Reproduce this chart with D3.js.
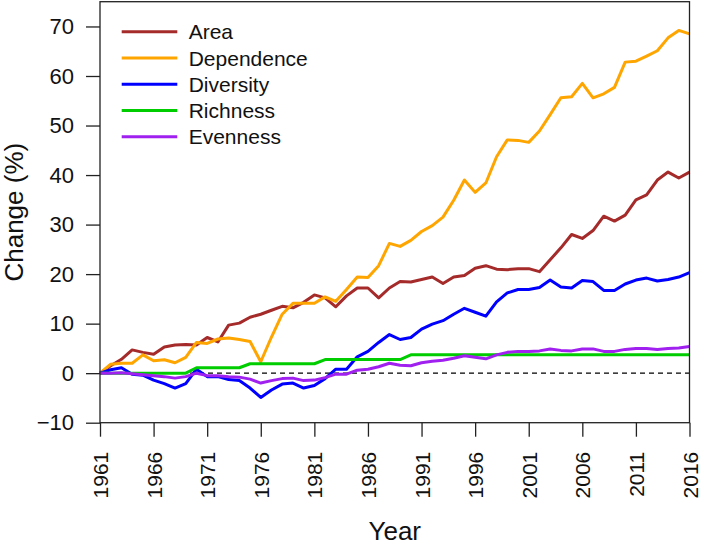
<!DOCTYPE html>
<html>
<head>
<meta charset="utf-8">
<script src="https://cdn.jsdelivr.net/npm/d3@7"></script>
<style>
  body { margin: 0; background: #fff; }
  svg { font-family: "Liberation Sans", Arial, sans-serif; }
</style>
</head>
<body>
<svg id="chart" width="709" height="549"></svg>
<script>
// data (percent change relative to 1961)
const years = d3.range(1961, 2017);
const seriesNames = ["Area", "Dependence", "Diversity", "Richness", "Evenness"];
const seriesColors = ["#A52A2A", "#FFA500", "#0000FF", "#00CD00", "#A020F0"];
const yTicks = [-10, 0, 10, 20, 30, 40, 50, 60, 70];
const xTicks = [1961, 1966, 1971, 1976, 1981, 1986, 1991, 1996, 2001, 2006, 2011, 2016];

const area = [
    0, 1.5, 2.8, 4.7, 4.2, 3.8, 5.3, 5.7, 5.8, 5.7,
    7.2, 6.3, 9.7, 10.1, 11.3, 11.9, 12.7, 13.5, 13.2, 14.3,
    15.8, 15.2, 13.4, 15.6, 17.2, 17.2, 15.2, 17.2, 18.5, 18.4,
    18.9, 19.4, 18.1, 19.4, 19.7, 21.2, 21.7, 21.0, 20.9, 21.1,
    21.1, 20.5, 22.9, 25.3, 28.0, 27.2, 28.8, 31.7, 30.7, 31.9,
    35.0, 36.0, 39.0, 40.6, 39.4, 40.6
];
const dependence = [
    0, 1.8, 2.0, 2.0, 3.7, 2.5, 2.7, 2.1, 3.2, 6.2,
    6.0, 6.9, 7.1, 6.8, 6.4, 2.3, 7.3, 11.9, 14.1, 14.1,
    14.1, 15.4, 14.5, 16.9, 19.4, 19.3, 21.7, 26.2, 25.6, 26.8,
    28.6, 29.8, 31.5, 34.9, 39.0, 36.5, 38.4, 43.7, 47.1, 47.0,
    46.6, 48.9, 52.2, 55.6, 55.8, 58.5, 55.6, 56.4, 57.7, 62.8,
    63.0, 64.0, 65.1, 67.7, 69.2, 68.5
];
const diversity = [
    0, 0.7, 1.1, -0.2, -0.4, -1.4, -2.1, -3.0, -2.1, 0.8,
    -0.7, -0.7, -1.3, -1.5, -3.0, -4.9, -3.4, -2.2, -2.0, -3.0,
    -2.5, -1.1, 0.8, 0.8, 3.3, 4.4, 6.2, 7.8, 6.8, 7.2,
    8.9, 9.9, 10.6, 11.9, 13.1, 12.3, 11.5, 14.4, 16.2, 16.9,
    16.9, 17.3, 18.8, 17.4, 17.2, 18.7, 18.5, 16.7, 16.7, 18.0,
    18.8, 19.2, 18.6, 18.9, 19.4, 20.3
];
const richness = [
    0, 0, 0, 0, 0, 0, 0, 0, 0, 1.1,
    1.1, 1.1, 1.1, 1.1, 1.9, 1.9, 1.9, 1.9, 1.9, 1.9,
    1.9, 2.75, 2.75, 2.75, 2.75, 2.75, 2.75, 2.75, 2.75, 3.7,
    3.7, 3.7, 3.7, 3.7, 3.7, 3.7, 3.7, 3.7, 3.7, 3.7,
    3.7, 3.7, 3.7, 3.7, 3.7, 3.7, 3.7, 3.7, 3.7, 3.7,
    3.7, 3.7, 3.7, 3.7, 3.7, 3.7
];
const evenness = [
    0, 0, 0.1, -0.1, -0.3, -0.5, -0.7, -1.0, -0.7, 0,
    -0.5, -0.5, -0.7, -0.8, -1.2, -2.0, -1.5, -1.1, -1.0, -1.5,
    -1.4, -0.9, -0.2, -0.2, 0.6, 0.8, 1.3, 2.0, 1.6, 1.5,
    2.1, 2.4, 2.6, 3.0, 3.5, 3.2, 2.9, 3.7, 4.2, 4.4,
    4.4, 4.5, 4.9, 4.6, 4.5, 4.9, 4.9, 4.4, 4.4, 4.8,
    5.0, 5.0, 4.8, 5.0, 5.1, 5.4
];
const seriesValues = [area, dependence, diversity, richness, evenness];

function plot() {
    const svg = d3.select("#chart");
    const left = 100, right = 689.5, top = 1.7, bottom = 422.7;

    const x = d3.scaleLinear().domain([1961, 2016]).range([left, right]);
    const y = d3.scaleLinear().domain([-10, 75]).range([bottom, top]);

    // zero reference line
    svg.append("line")
        .attr("x1", left).attr("x2", right)
        .attr("y1", y(0)).attr("y2", y(0))
        .attr("stroke", "#000")
        .attr("stroke-width", 1.2)
        .attr("stroke-dasharray", "5,4");

    const line = d3.line()
        .x(function(d) { return x(d[0]); })
        .y(function(d) { return y(d[1]); });

    seriesValues.forEach(function(vals, i) {
        svg.append("path")
            .datum(years.map(function(yr, j) { return [yr, vals[j]]; }))
            .attr("fill", "none")
            .attr("stroke", seriesColors[i])
            .attr("stroke-width", 3)
            .attr("stroke-linejoin", "round")
            .attr("d", line);
    });

    // box
    svg.append("rect")
        .attr("x", left).attr("y", top)
        .attr("width", right - left).attr("height", bottom - top)
        .attr("fill", "none")
        .attr("stroke", "#222")
        .attr("stroke-width", 1.3);

    // y axis
    const gy = svg.append("g")
        .attr("transform", "translate(" + left + ",0)")
        .call(d3.axisLeft(y).tickValues(yTicks).tickSize(14).tickPadding(12)
            .tickFormat(function(d) { return d < 0 ? "\u2212" + Math.abs(d) : d; }));
    gy.select(".domain").remove();
    gy.selectAll("line").attr("stroke", "#222").attr("stroke-width", 1.3);
    gy.selectAll("text").attr("font-size", 22).attr("fill", "#111")
        .attr("font-family", "Liberation Sans, Arial, sans-serif");

    // x axis
    const gx = svg.append("g")
        .attr("transform", "translate(0," + bottom + ")")
        .call(d3.axisBottom(x).tickValues(xTicks).tickSize(14).tickFormat(d3.format("d")));
    gx.select(".domain").remove();
    gx.selectAll("line").attr("stroke", "#222").attr("stroke-width", 1.3);
    gx.selectAll("text")
        .attr("font-size", 21)
        .attr("fill", "#111")
        .attr("font-family", "Liberation Sans, Arial, sans-serif")
        .attr("text-anchor", "end")
        .attr("transform", "rotate(-90)")
        .attr("x", -29)
        .attr("y", 0)
        .attr("dy", "0.36em");

    // axis titles
    svg.append("text")
        .attr("x", (left + right) / 2)
        .attr("y", 540)
        .attr("text-anchor", "middle")
        .attr("font-size", 26)
        .attr("fill", "#111")
        .text("Year");

    svg.append("text")
        .attr("transform", "translate(23," + (top + bottom) / 2 + ") rotate(-90)")
        .attr("text-anchor", "middle")
        .attr("font-size", 26)
        .attr("fill", "#111")
        .text("Change (%)");

    // legend
    const legend = svg.append("g");
    seriesNames.forEach(function(name, i) {
        const ly = 31.7 + i * 26.25;
        legend.append("line")
            .attr("x1", 121.7).attr("x2", 177.3)
            .attr("y1", ly).attr("y2", ly)
            .attr("stroke", seriesColors[i])
            .attr("stroke-width", 3);
        legend.append("text")
            .attr("x", 188.7)
            .attr("y", ly)
            .attr("dy", "0.36em")
            .attr("font-size", 21)
            .attr("fill", "#111")
            .text(name);
    });
}

plot();
</script>
</body>
</html>
